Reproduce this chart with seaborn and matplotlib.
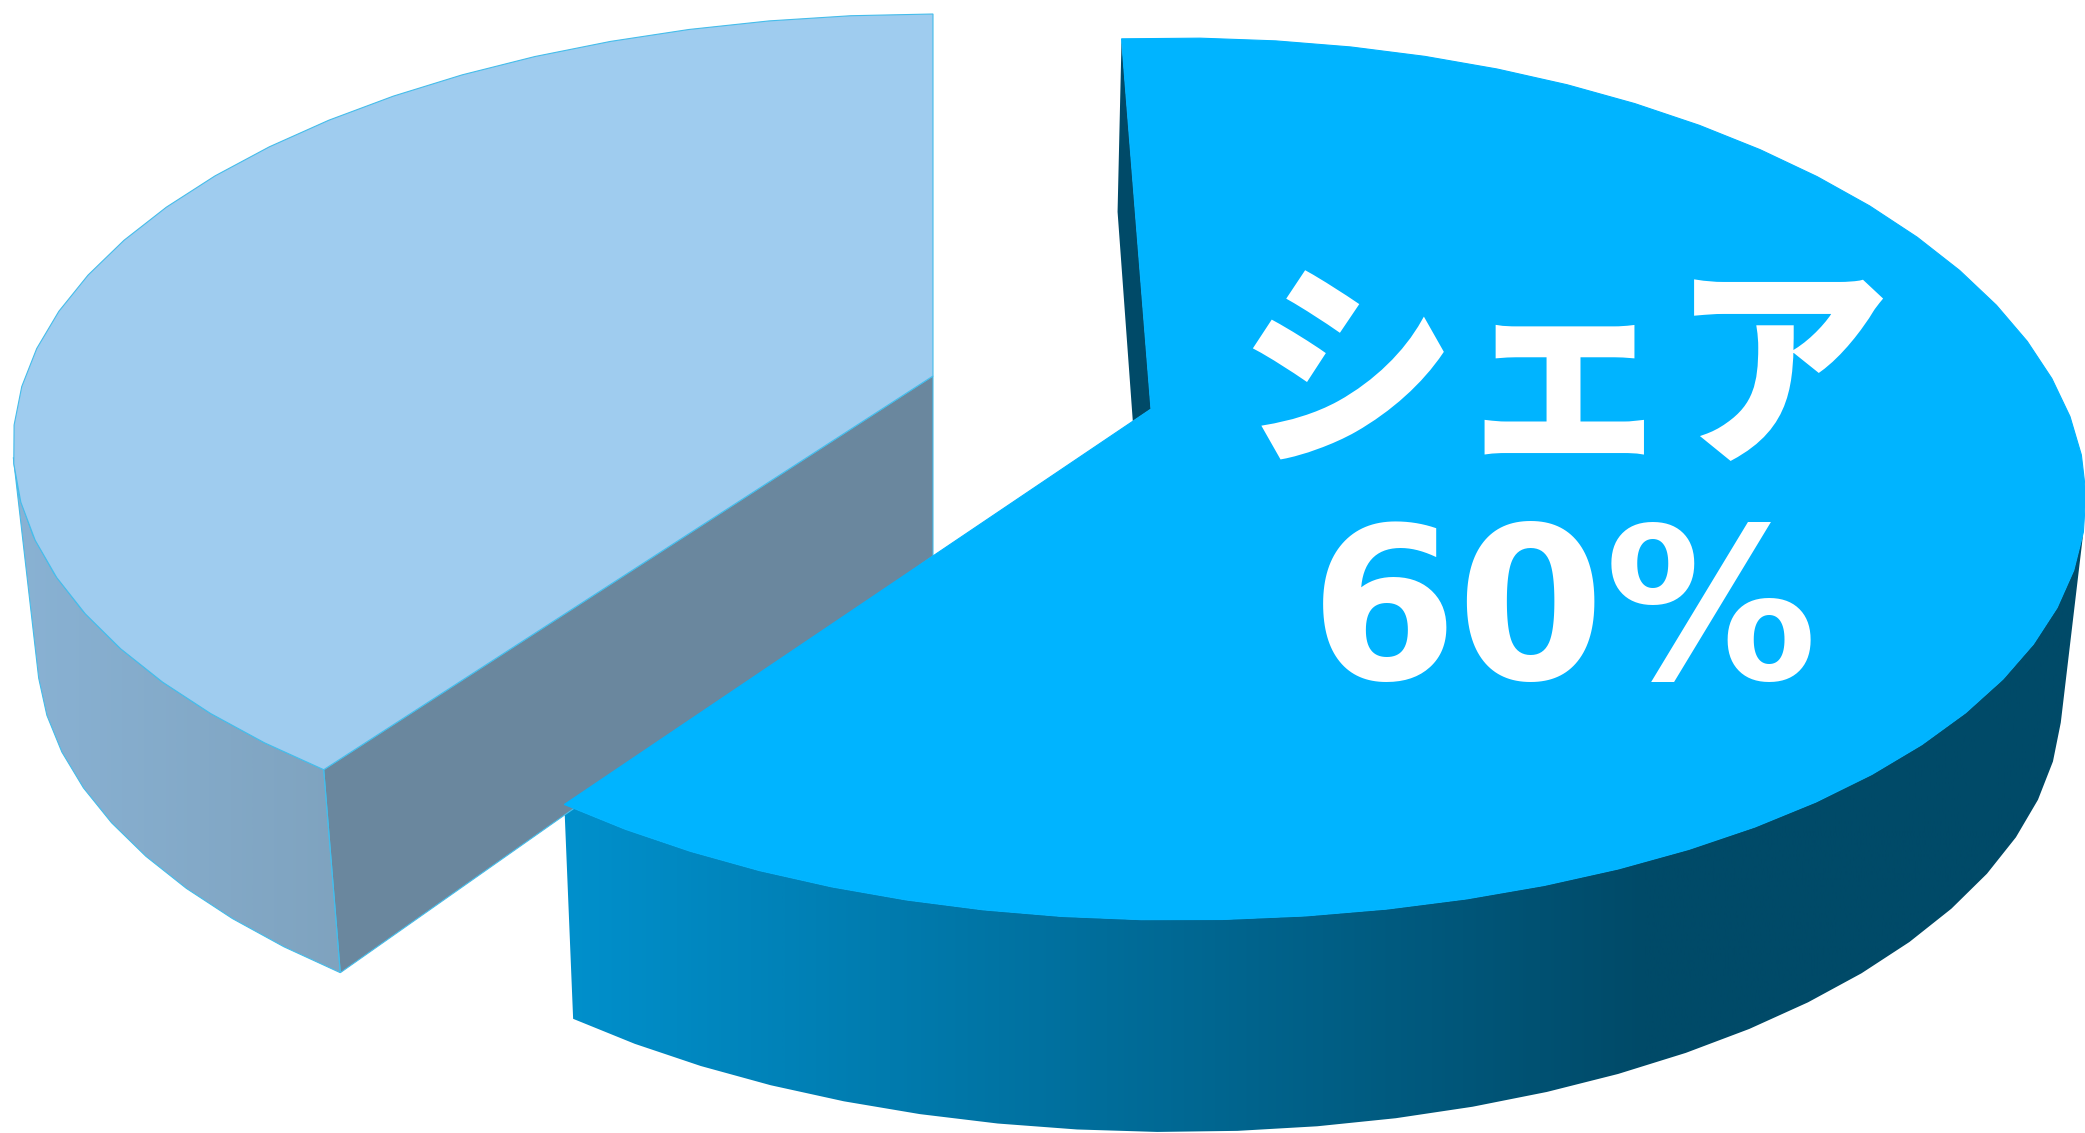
"""Exploded pseudo-3D pie with a share label, drawn with seaborn palettes on matplotlib axes."""

import matplotlib
matplotlib.use('Agg')
import matplotlib.pyplot as plt
import matplotlib.patheffects as pe
from matplotlib.patches import Polygon
import numpy as np
import seaborn as sns

# Data
slice_names = ['シェア', 'その他']
slice_shares = [60, 40]
share_label = '60%'

# Colours
BIG_TOP = '#00B4FF'
BIG_WALL = ['#0090CC', '#004A68']
BIG_INNER = '#004A68'
LIGHT_TOP = '#9FCCEF'
LIGHT_WALL = ['#89B2D4', '#7FA3BF']
LIGHT_INNER = '#6A879E'
EDGE = '#45BDEB'

FACET = 5.0  # the rim is a polygon with visible facets, degrees per facet

sns.set_theme(style='white')
plt.rcParams['font.family'] = ['Noto Sans CJK JP', 'DejaVu Sans']


def rim(center, radii, start, stop, taper=0.0):
    """Points along an ellipse between two angles, in pixel coords (y down).

    taper narrows the far right part of the ellipse, for the perspective.
    """
    n = max(2, int(abs(stop - start) / FACET) + 1)
    t = np.radians(np.linspace(start, stop, n))
    squeeze = np.where(np.cos(t) > 0, 1 - taper * np.sin(t), 1)
    return np.column_stack([center[0] + radii[0] * np.cos(t) * squeeze,
                            center[1] - radii[1] * np.sin(t)])


def gradient_wall(ax, pts, colors, x0, x1):
    """Fill a polygon with a left to right gradient from a seaborn blend."""
    cmap = sns.blend_palette(colors, as_cmap=True)
    fill = np.clip((np.linspace(pts[:, 0].min(), pts[:, 0].max(), 512) - x0) / (x1 - x0), 0, 1)
    img = ax.imshow(fill[np.newaxis, :], cmap=cmap, vmin=0, vmax=1, aspect='auto',
                    extent=(pts[:, 0].min(), pts[:, 0].max(), pts[:, 1].max(), pts[:, 1].min()))
    clip = Polygon(pts, closed=True, transform=ax.transData, fc='none', ec='none')
    ax.add_patch(clip)
    img.set_clip_path(clip)
    return img


fig = plt.figure(figsize=(20.85, 11.33), dpi=100)
ax = fig.add_axes([0, 0, 1, 1])

# sweep of each slice from its share, stretched a bit by the perspective
big_start = 93.5
big_stop = big_start - slice_shares[0] * 3.6 * 1.046
light_start = 90
light_stop = light_start + slice_shares[1] * 3.6 * 0.962

# Light slice
l_hub = np.array([933, 376])
l_top = ((933, 446), (920, 432))
l_low = ((935, 652), (898, 428))
l_corner = rim(*l_top, light_stop, light_stop + 1)[0]
l_corner_low = rim(*l_low, light_stop, light_stop + 1)[0]
l_hub_low = l_hub + [0, 180]

ax.add_patch(Polygon([l_hub, l_hub_low, l_corner_low, l_corner], closed=True,
                     fc=LIGHT_INNER, ec=EDGE, lw=0.8))
l_wall = np.vstack([rim(*l_top, 181.5, light_stop), rim(*l_low, light_stop, 183.5)])
gradient_wall(ax, l_wall, LIGHT_WALL, l_wall[:, 0].min(), l_wall[:, 0].max())
ax.add_patch(Polygon(l_wall, closed=True, fc='none', ec=EDGE, lw=0.8))
l_face = np.vstack([rim(*l_top, light_start, light_stop), l_hub])
ax.add_patch(Polygon(l_face, closed=True, fc=LIGHT_TOP, ec=EDGE, lw=0.8))

# Big slice
b_hub = np.array([1151, 409])
b_top = ((1177, 479), (908, 441))
b_low = ((1173, 700), (889, 432))
b_first = rim(*b_top, big_start, big_start + 1)[0]
b_corner = rim(*b_top, big_stop, big_stop + 1)[0]

inner = [b_first, b_first + [-4, 173], b_hub + 0.031 * (b_corner - b_hub), b_hub]
ax.add_patch(Polygon(inner, closed=True, fc=BIG_INNER, ec='none'))
b_wall = np.vstack([rim(*b_top, big_stop, -7, taper=0.046), rim(*b_low, -3, big_stop)])
gradient_wall(ax, b_wall, BIG_WALL, b_wall[:, 0].min(), 1650)
b_face = np.vstack([rim(*b_top, big_start, big_stop, taper=0.046), b_hub])
ax.add_patch(Polygon(b_face, closed=True, fc=BIG_TOP, ec=BIG_TOP, lw=0.8))

# Labels, the stroke thickens the kana to the reference weight
ax.text(1564, 382, slice_names[0], color='white', fontsize=156, fontweight='bold',
        ha='center', va='center',
        path_effects=[pe.withStroke(linewidth=4, foreground='white', joinstyle='miter')])
ax.text(1564, 620, share_label, color='white', fontsize=153, fontweight='bold',
        family=['DejaVu Sans'], ha='center', va='center')

ax.set_xlim(0, 2085)
ax.set_ylim(1133, 0)
ax.axis('off')

fig.savefig('out.png', dpi=100, facecolor='white')
plt.close(fig)
